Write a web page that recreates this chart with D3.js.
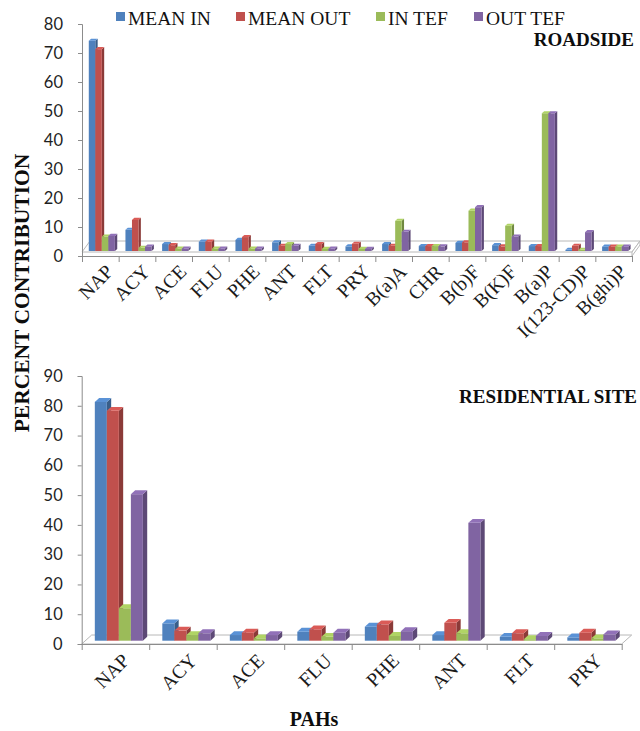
<!DOCTYPE html>
<html>
<head>
<meta charset="utf-8">
<script src="https://cdn.jsdelivr.net/npm/d3@7"></script>
<style>
  html, body { margin: 0; padding: 0; background: #fff; }
  svg { display: block; }
</style>
</head>
<body>
<svg id="chart" width="640" height="731"></svg>
<script>
// PAH percent contributions at the roadside and residential sites
const seriesNames = ["MEAN IN", "MEAN OUT", "IN TEF", "OUT TEF"];
const seriesColors = ["#4F81BD", "#C0504D", "#9BBB59", "#8064A2"];

const roadCategories = ["NAP", "ACY", "ACE", "FLU", "PHE", "ANT", "FLT", "PRY", "B(a)A", "CHR", "B(b)F", "B(K)F", "B(a)P", "I(123-CD)P", "B(ghi)P"];
const roadMeanIn  = [72.5, 7.3, 2.4, 3.2, 3.8, 3.0, 1.8, 1.6, 2.4, 1.7, 2.8, 2.0, 1.7, 0.4, 1.5];
const roadMeanOut = [69.6, 10.7, 2.0, 3.2, 4.8, 1.8, 2.4, 2.5, 1.8, 1.7, 3.0, 1.6, 1.7, 1.8, 1.5];
const roadInTef   = [5.0, 1.1, 0.8, 0.8, 0.8, 2.4, 0.7, 0.7, 10.4, 1.7, 13.9, 8.7, 47.5, 0.4, 1.5];
const roadOutTef  = [5.2, 1.5, 0.8, 0.8, 0.8, 1.8, 0.8, 0.7, 6.6, 1.6, 15.1, 5.0, 47.5, 6.5, 1.5];
const roadTicks = [0, 10, 20, 30, 40, 50, 60, 70, 80];

const resCategories = ["NAP", "ACY", "ACE", "FLU", "PHE", "ANT", "FLT", "PRY"];
const resMeanIn  = [80.2, 5.8, 1.9, 3.0, 4.7, 1.9, 1.3, 1.1];
const resMeanOut = [77.2, 3.4, 2.7, 3.8, 5.5, 6.0, 2.5, 2.7];
const resInTef   = [10.9, 1.9, 0.8, 1.3, 1.6, 2.5, 0.5, 0.8];
const resOutTef  = [49.2, 2.5, 1.9, 2.7, 3.2, 39.6, 1.6, 2.1];
const resTicks = [0, 10, 20, 30, 40, 50, 60, 70, 80, 90];

const svg = d3.select("#chart");
const serif = "'Liberation Serif', 'Times New Roman', serif";
const sans = "Lato, 'Open Sans', sans-serif";
const axisGrey = "#8c8c8c";

function drawPanel(opt) {
  const g = svg.append("g");
  const n = opt.categories.length;
  const y = d3.scaleLinear().domain(opt.domain).range([opt.y0, opt.yTop]);
  const band = d3.scaleBand().domain(opt.categories).range([opt.x0, opt.x1]).padding(0);
  const edge = d3.scaleLinear().domain([0, n]).range([opt.x0, opt.x1]);

  // floor slab
  const fy = opt.y0 - opt.thick;
  const floor = g.append("g").attr("fill", "#fff").attr("stroke", "#b8b8b8").attr("stroke-width", 1);
  floor.append("polygon").attr("points", [
    [opt.x0, fy], [opt.x1, fy], [opt.x1 + opt.dx, fy - opt.dy], [opt.x0 + opt.dx, fy - opt.dy]
  ].join(" "));
  if (opt.thick > 0) {
    floor.append("polygon").attr("points", [
      [opt.x1, fy], [opt.x1 + opt.dx, fy - opt.dy], [opt.x1 + opt.dx, opt.y0 - opt.dy], [opt.x1, opt.y0]
    ].join(" "));
  }

  // value axis
  const yAxis = d3.axisLeft(y).tickValues(opt.ticks).tickSize(4).tickPadding(15).tickFormat(d3.format("d"));
  const ya = g.append("g").attr("transform", `translate(${opt.x0},0)`).call(yAxis);
  ya.select(".domain").attr("stroke", axisGrey);
  ya.selectAll(".tick line").attr("stroke", axisGrey);
  ya.selectAll(".tick text").attr("font-family", sans).attr("font-size", 16.5).attr("fill", "#1f1f1f");

  // category axis with ticks on the band edges
  const xAxis = d3.axisBottom(edge).tickValues(d3.range(n + 1)).tickSize(6).tickSizeOuter(0).tickFormat("");
  const xa = g.append("g").attr("transform", `translate(0,${opt.y0})`).call(xAxis);
  xa.select(".domain").attr("stroke", axisGrey);
  xa.selectAll(".tick line").attr("stroke", axisGrey);

  // 3D bars
  const bw = band.bandwidth() * 0.178;
  const groupW = bw * 4;
  const d = bw * 0.36, dd = d * 0.9;
  const base = opt.y0 - opt.barLift;
  const bars = g.append("g");
  opt.categories.forEach((c, i) => {
    const gx = band(c) + (band.bandwidth() - groupW) / 2 + opt.shiftX;
    opt.series.forEach((vals, s) => {
      const v = vals[i];
      const x = gx + s * bw;
      const top = y(v) - opt.barLift;
      const col = d3.color(seriesColors[s]);
      const bg = bars.append("g");
      bg.append("polygon")
        .attr("points", [[x + bw, top], [x + bw + d, top - dd], [x + bw + d, base - dd], [x + bw, base]].join(" "))
        .attr("fill", col.darker(0.9));
      bg.append("rect")
        .attr("x", x).attr("y", top).attr("width", bw).attr("height", Math.max(0, base - top))
        .attr("fill", col);
      bg.append("polygon")
        .attr("points", [[x, top], [x + d, top - dd], [x + bw + d, top - dd], [x + bw, top]].join(" "))
        .attr("fill", col.brighter(0.35));
    });
  });

  // category labels
  g.append("g").selectAll("text").data(opt.categories).join("text")
    .attr("transform", c => `translate(${band(c) + band.bandwidth() / 2 + opt.labelDx},${opt.y0 + opt.labelDy}) rotate(-45)`)
    .attr("text-anchor", "end")
    .attr("dy", "0.72em")
    .attr("font-family", serif).attr("font-size", 19.5).attr("fill", "#1a1a1a")
    .text(c => c);

  // panel title
  g.append("text")
    .attr("x", opt.titleX).attr("y", opt.titleY).attr("text-anchor", "end")
    .attr("font-family", serif).attr("font-weight", "bold").attr("font-size", 19).attr("fill", "#0d0d0d")
    .text(opt.title);
}

drawPanel({
  categories: roadCategories,
  series: [roadMeanIn, roadMeanOut, roadInTef, roadOutTef],
  domain: [0, 80], ticks: roadTicks,
  x0: 82, x1: 632, y0: 256, yTop: 24,
  thick: 4, dx: 8, dy: 11, barLift: 5, shiftX: 1.5,
  labelDx: 4, labelDy: 7,
  title: "ROADSIDE", titleX: 634, titleY: 46
});

drawPanel({
  categories: resCategories,
  series: [resMeanIn, resMeanOut, resInTef, resOutTef],
  domain: [0, 90], ticks: resTicks,
  x0: 81.7, x1: 621.7, y0: 644, yTop: 376,
  thick: 0, dx: 10, dy: 9, barLift: 3.3, shiftX: 3.4,
  labelDx: 5, labelDy: 8,
  title: "RESIDENTIAL SITE", titleX: 637, titleY: 403
});

// legend
const legend = svg.append("g");
const legendX = [116, 236, 376, 474];
seriesNames.forEach((name, i) => {
  legend.append("rect").attr("x", legendX[i]).attr("y", 12).attr("width", 9).attr("height", 9).attr("fill", seriesColors[i]);
  legend.append("text").attr("x", legendX[i] + 12).attr("y", 25)
    .attr("font-family", serif).attr("font-size", 19.5).attr("fill", "#111")
    .text(name);
});

// shared axis titles
svg.append("text")
  .attr("transform", "translate(29,293) rotate(-90)")
  .attr("text-anchor", "middle")
  .attr("font-family", serif).attr("font-weight", "bold").attr("font-size", 21.5).attr("fill", "#0d0d0d")
  .text("PERCENT CONTRIBUTION");

svg.append("text")
  .attr("x", 314).attr("y", 726).attr("text-anchor", "middle")
  .attr("font-family", serif).attr("font-weight", "bold").attr("font-size", 20).attr("fill", "#0d0d0d")
  .text("PAHs");
</script>
</body>
</html>
